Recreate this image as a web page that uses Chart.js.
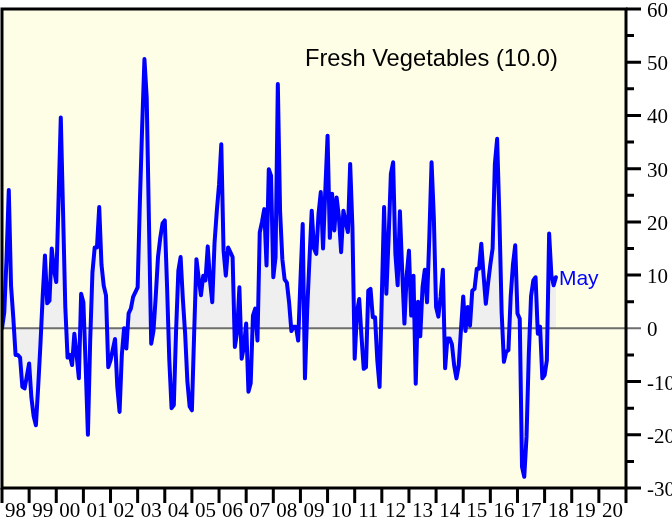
<!doctype html>
<html lang="en">
<head>
  <meta charset="UTF-8">
  <title>Fresh Vegetables</title>
  <script src="https://cdn.jsdelivr.net/npm/chart.js"></script>
  <style>
    html, body { margin: 0; padding: 0; background: #fff; }
    #chart_01 { display: block; }
  </style>
</head>
<body>
  <canvas id="chart_01" width="672" height="521"></canvas>
  <script>
    // monthly values, starting Jan 1998
    const startYear = 1998
    const values = [
      0, 3, 13, 26, 8, 2, -5, -5, -5.5, -11, -11.3, -9,
      -6.6, -13, -16.5, -18.2, -11, -3, 6, 13.7, 4.7, 5.2, 15, 11,
      8.7, 24, 39.6, 22, 4, -5.5, -5, -6.9, -1, -5, -9.4, 6.5,
      4.9, -7, -20, -2.4, 10.5, 15.2, 15.2, 22.8, 12, 8, 6.2, -7.3,
      -6, -4, -2, -11, -15.7, -5, 0, -3.8, 2.8, 3.7, 5.9, 6.8,
      7.7, 24, 38, 50.6, 43.4, 20, -2.9, -0.5, 6, 13.4, 17, 19.7,
      20.3, 8, -6, -15, -14.4, -0.4, 10.8, 13.4, 5.5, -1, -10, -14.7,
      -15.4, -0.8, 13, 9.4, 6.2, 9.9, 9, 15.4, 9, 4.9, 16, 22,
      27, 34.6, 14.6, 9.9, 15.2, 14.3, 13.4, -3.5, -0.7, 7.7, -5.7, -3.5,
      0.9, -11.9, -10.3, 2.4, 3.7, -2.3, 18, 20, 22.4, 11.8, 29.9, 28.7,
      9.6, 13.4, 45.9, 22, 13, 9.2, 8.6, 4.8, -0.5, 0.3, 0.3, -2.3,
      9, 19.6, -9.4, 3.5, 13, 22.1, 15, 14, 21.5, 25.6, 15, 26,
      36.2, 17, 25.3, 18.4, 24.6, 21, 14.3, 22.1, 20, 18.1, 30.9, 19,
      -5.7, 3, 5.5, -1.5, -7.6, -7.3, 7.1, 7.4, 2.1, 2.1, -6, -11,
      6, 22.8, 6.5, 17, 29, 31.2, 14, 8.1, 22, 10.9, 0.9, 10,
      14.6, 2.4, 9.9, -10.4, 5, -1.5, 7.7, 11, 4.9, 17.1, 31.2, 20.9,
      4, 2.2, 6, 11, -7.5, -1.9, -1.9, -3, -7, -9.4, -7, -0.3,
      6, -0.5, 4, 0.5, 7.1, 7.4, 11.2, 11.2, 15.9, 10, 4.6, 8.5,
      12, 15, 30.9, 35.6, 20.9, 3, -6.3, -4.4, -4.1, 6, 12, 15.6,
      2.8, 1.8, -26, -27.9, -20.4, -5, 6, 9, 9.6, -1, 0.3, -9.4,
      -8.8, -6, 17.8, 10, 8.1, 9.6
    ]
    const yearLabels = ['98', '99', '00', '01', '02', '03', '04', '05', '06', '07', '08', '09',
      '10', '11', '12', '13', '14', '15', '16', '17', '18', '19', '20']
    const yTicks = [-30, -20, -10, 0, 10, 20, 30, 40, 50, 60]
    const yMinorTicks = [-25, -15, -5, 5, 15, 25, 35, 45, 55]
    const lastLabel = 'May'
    const titleText = 'Fresh Vegetables (10.0)'

    const points = values.map((v, i) => ({x: startYear + i / 12, y: v}))

    const serif = '"Liberation Serif", "Times New Roman", serif'
    const sans = '"Liberation Sans", Arial, sans-serif'

    const deco = {
      id: 'deco',
      beforeDraw(chart) {
        const {ctx, chartArea: a} = chart
        ctx.save()
        ctx.fillStyle = '#fefee6'
        ctx.fillRect(a.left, a.top, a.right - a.left, a.bottom - a.top)
        ctx.restore()
      },
      afterDatasetDraw(chart, args) {
        if (args.index !== 1) return
        const {ctx, chartArea: a, scales: {y}} = chart
        const y0 = y.getPixelForValue(0)
        ctx.save()
        ctx.strokeStyle = '#6e6e6e'
        ctx.lineWidth = 2
        ctx.beginPath()
        ctx.moveTo(a.left, y0)
        ctx.lineTo(a.right + 15, y0)
        ctx.stroke()
        ctx.restore()
      },
      afterDraw(chart) {
        const {ctx, chartArea: a, scales: {x, y}} = chart
        ctx.save()
        ctx.strokeStyle = '#000'
        ctx.lineWidth = 3
        ctx.strokeRect(a.left, a.top, a.right - a.left, a.bottom - a.top)

        // y ticks on the right
        ctx.beginPath()
        yTicks.forEach(t => {
          if (t === 0) return
          const py = y.getPixelForValue(t)
          ctx.moveTo(a.right, py)
          ctx.lineTo(a.right + 15, py)
        })
        yMinorTicks.forEach(t => {
          const py = y.getPixelForValue(t)
          ctx.moveTo(a.right, py)
          ctx.lineTo(a.right + 8, py)
        })
        // x ticks at each year
        for (let yr = startYear; yr <= startYear + yearLabels.length; yr++) {
          const px = x.getPixelForValue(yr)
          ctx.moveTo(px, a.bottom)
          ctx.lineTo(px, a.bottom + 15)
        }
        ctx.stroke()

        ctx.fillStyle = '#000'
        ctx.font = `21px ${serif}`
        ctx.textAlign = 'left'
        ctx.textBaseline = 'alphabetic'
        yTicks.forEach(t => {
          ctx.fillText(String(t), a.right + 21, y.getPixelForValue(t) + 8)
        })
        ctx.textAlign = 'center'
        yearLabels.forEach((lab, i) => {
          ctx.fillText(lab, x.getPixelForValue(startYear + i + 0.5), 517)
        })

        ctx.font = `23.7px ${sans}`
        ctx.textAlign = 'left'
        ctx.fillText(titleText, 305, 66)

        const last = points[points.length - 1]
        ctx.fillStyle = '#0000ff'
        ctx.font = `21px ${sans}`
        ctx.fillText(lastLabel, x.getPixelForValue(last.x) + 3, y.getPixelForValue(last.y) + 8)
        ctx.restore()
      }
    }

    const config = {
      type: 'line',
      data: {
        datasets: [{
          data: points,
          borderColor: '#0000ff',
          borderWidth: 4,
          borderJoinStyle: 'round',
          borderCapStyle: 'round',
          pointRadius: 0,
          tension: 0,
          fill: false,
          order: 0
        }, {
          data: points,
          borderWidth: 0,
          borderColor: 'rgba(0,0,0,0)',
          backgroundColor: '#efefef',
          pointRadius: 0,
          tension: 0,
          fill: {value: 0},
          order: 1
        }]
      },
      options: {
        responsive: false,
        animation: false,
        events: [],
        layout: {
          padding: {left: 2, top: 9, right: 46, bottom: 33}
        },
        plugins: {
          legend: {display: false},
          tooltip: {enabled: false}
        },
        scales: {
          x: {type: 'linear', min: 1998, max: 2021, display: false},
          y: {min: -30, max: 60, display: false}
        }
      },
      plugins: [deco]
    }

    const myChart = new Chart(document.getElementById('chart_01'), config)
  </script>
</body>
</html>
